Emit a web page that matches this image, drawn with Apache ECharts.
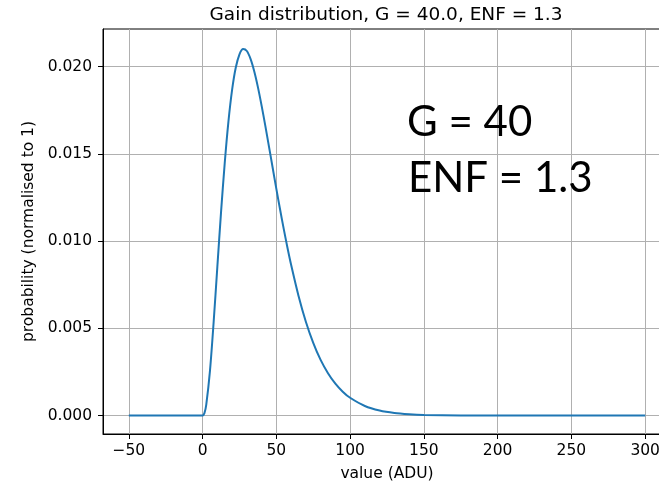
<!DOCTYPE html>
<html>
<head>
<meta charset="utf-8">
<script src="https://cdn.jsdelivr.net/npm/echarts@6/dist/echarts.min.js"></script>
<style>
html,body{margin:0;padding:0;background:#fff;overflow:hidden;width:659px;height:487px;}
#chart{width:680px;height:487px;}
</style>
</head>
<body>
<div id="chart"></div>
<script>
// Data
const xValues = [-50,-25,0,1.25,2.5,5,7.5,10,12.5,15,17.5,20,22.5,25,27.5,30,32.5,35,37.5,40,42.5,45,47.5,50,52.5,55,57.5,60,65,70,75,80,85,90,95,100,110,120,130,140,150,175,200,250,300];
const probValues = [0,0,0,0.00014,0.00063,0.00256,0.00536,0.00852,0.01164,0.01446,0.01683,0.01866,0.01994,0.02070,0.02100,0.02089,0.02044,0.01973,0.01882,0.01776,0.01661,0.01541,0.01420,0.01299,0.01182,0.01070,0.00963,0.00864,0.00687,0.00538,0.00417,0.00319,0.00243,0.00183,0.00137,0.00102,0.00055,0.00029,0.00015,0.00008,0.00004,0.000007,0.000001,0,0];
const xTicks = [-50,0,50,100,150,200,250,300];
const yTicks = [0,0.005,0.010,0.015,0.020];
const titleText = "Gain distribution, G = 40.0, ENF = 1.3";
const xLabel = "value (ADU)";
const yLabel = "probability (normalised to 1)";
const noteLines = ["G = 40", "ENF = 1.3"];

const FONT = "DejaVu Sans";
const chart = echarts.init(document.getElementById('chart'), null, {renderer:'canvas'});
const seriesData = xValues.map((x, i) => [x, probValues[i]]);

chart.setOption({
  animation: false,
  backgroundColor: '#ffffff',
  grid: {left: 103, top: 29, right: 9, bottom: 50, show: true, borderColor: '#000', borderWidth: 1, containLabel: false},
  xAxis: {
    type: 'value', min: -67.5, max: 317.5,
    name: xLabel, nameLocation: 'middle', nameGap: 32,
    nameTextStyle: {fontFamily: FONT, fontSize: 15.5, color: '#000'},
    axisLine: {show: true, onZero: false, lineStyle: {color: '#000', width: 1}},
    axisTick: {show: true, inside: false, length: 5, lineStyle: {color: '#000', width: 1}, customValues: xTicks},
    axisLabel: {show: true, margin: 9, fontFamily: FONT, fontSize: 15.5, color: '#000', customValues: xTicks,
      formatter: v => String(v).replace('-', '\u2212')},
    splitLine: {show: true, lineStyle: {color: '#b0b0b0', width: 1}}
  },
  yAxis: {
    type: 'value', min: -0.001055, max: 0.02215,
    name: yLabel, nameLocation: 'middle', nameGap: 55, nameRotate: 90,
    nameTextStyle: {fontFamily: FONT, fontSize: 15.5, color: '#000'},
    axisLine: {show: true, onZero: false, lineStyle: {color: '#000', width: 1}},
    axisTick: {show: true, inside: false, length: 5, lineStyle: {color: '#000', width: 1}, customValues: yTicks},
    axisLabel: {show: true, margin: 11, fontFamily: FONT, fontSize: 15.5, color: '#000', customValues: yTicks,
      formatter: v => v.toFixed(3)},
    splitLine: {show: true, lineStyle: {color: '#b0b0b0', width: 1}}
  },
  series: [{
    type: 'line', data: seriesData, showSymbol: false, smooth: 0.3,
    lineStyle: {color: '#1f77b4', width: 2}, itemStyle: {color: '#1f77b4'}, z: 3
  }],
  graphic: [
    {type: 'text', x: 386, y: 15, z: 10,
      style: {text: titleText, font: '18.5px "DejaVu Sans"', fill: '#000', textAlign: 'center', textVerticalAlign: 'middle'}},
    {type: 'text', x: 407, y: 122, z: 10,
      style: {text: noteLines[0], font: '42px Lato', fill: '#000', textAlign: 'left', textVerticalAlign: 'middle'}},
    {type: 'text', x: 408, y: 178, z: 10,
      style: {text: noteLines[1], font: '42px Lato', fill: '#000', textAlign: 'left', textVerticalAlign: 'middle'}}
  ]
});
</script>
</body>
</html>
